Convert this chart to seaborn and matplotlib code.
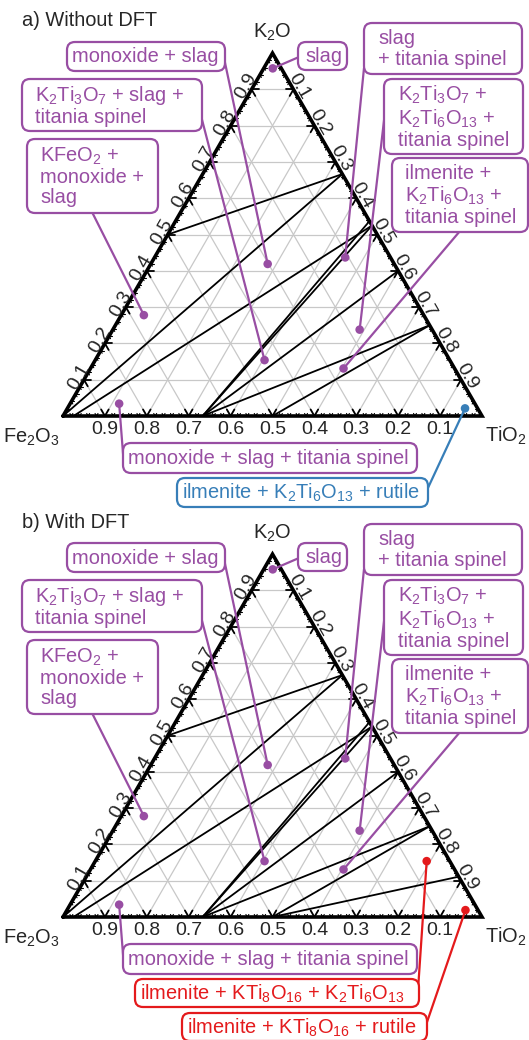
import numpy as np
import matplotlib
matplotlib.use("Agg")
import matplotlib.pyplot as plt
import seaborn as sns
import pandas as pd
from matplotlib.patches import FancyBboxPatch

sns.set_theme(style="white")
plt.rcParams['font.family'] = ['Liberation Sans', 'DejaVu Sans']
plt.rcParams['mathtext.fontset'] = 'custom'
plt.rcParams['mathtext.rm'] = 'Liberation Sans'
plt.rcParams['mathtext.it'] = 'Liberation Sans'

PURPLE = "#984ea3"
BLUE = "#377eb8"
RED = "#e41a1c"

# ---------------- data (cation fractions: K, Ti; Fe = 1 - K - Ti) -------------
# tie lines shared by both panels: start (K, Ti) -> end (K, Ti)
tie_k0 = [0.0, 0.5, 0.0, 0.0, 0.0, 0.0, 0.0, 0.0]
tie_t0 = [0.0, 0.0, 0.025, 1/3, 1/3, 1/3, 1/3, 0.5]
tie_k1 = [2/3, 2/3, 0.525, 0.525, 0.537, 0.4, 0.25, 0.25]
tie_t1 = [1/3, 1/3, 0.475, 0.475, 0.463, 0.6, 0.75, 0.75]
# extra tie line in panel b (with DFT: KTi8O16)
dft_k0 = [0.0]
dft_t0 = [0.5]
dft_k1 = [1/9]
dft_t1 = [8/9]

# labelled phase regions (text, dot K, dot Ti)
region_text = [
    "monoxide + slag",
    "K$_2$Ti$_3$O$_7$ + slag +\ntitania spinel",
    "KFeO$_2$ +\nmonoxide +\nslag",
    "slag",
    "slag\n+ titania spinel",
    "K$_2$Ti$_3$O$_7$ +\nK$_2$Ti$_6$O$_{13}$ +\ntitania spinel",
    "ilmenite +\nK$_2$Ti$_6$O$_{13}$ +\ntitania spinel",
    "monoxide + slag + titania spinel",
]
region_k = [0.419, 0.154, 0.278, 0.958, 0.437, 0.238, 0.131, 0.034]
region_t = [0.279, 0.404, 0.054, 0.0215, 0.455, 0.589, 0.604, 0.117]

a_extra_text = ["ilmenite + K$_2$Ti$_6$O$_{13}$ + rutile"]
a_extra_k = [0.021]
a_extra_t = [0.949]

b_extra_text = ["ilmenite + KTi$_8$O$_{16}$ + K$_2$Ti$_6$O$_{13}$",
                "ilmenite + KTi$_8$O$_{16}$ + rutile"]
b_extra_k = [0.154, 0.019]
b_extra_t = [0.791, 0.951]

corner_labels = ["Fe$_2$O$_3$", "TiO$_2$", "K$_2$O"]
tick_values = [0.1, 0.2, 0.3, 0.4, 0.5, 0.6, 0.7, 0.8, 0.9]
panel_titles = ["a) Without DFT", "b) With DFT"]

# ---------------- layout (pixels, panel-a frame) -------------
W, H = 529, 1040
X0, SIDE = 63.0, 419.0
BASES = [416.0, 917.0]
PANEL_TOP = [0, 500]
PANEL_BOT = [500, 1040]
R3 = np.sqrt(3) / 2

# boxes: (left, top, right, bottom), text left x, leader anchor
box_rect = [(67, 42, 225, 71), (22, 79, 202, 131), (27, 139, 158, 213), (298, 42, 347, 70),
            (364, 23, 522, 74), (384, 79, 523, 154), (392, 158, 528, 232), (123, 443, 417, 473)]
text_x = [72, 35, 40, 305, 378, 398, 405, 128]
lead_xy = [(224, 58), (200, 112), (92, 212), (299, 57), (364, 68), (385, 112), (460, 231), (124, 466)]
a_box_rect = [(177, 478, 428, 507)]
a_text_x = [182]
a_lead_xy = [(427, 490)]
b_box_rect = [(135, 478, 419, 506), (182, 512, 427, 540)]
b_text_x = [140, 187]
b_lead_xy = [(418, 489), (426, 524)]

FS = 14.4
FS_TICK = 14.0


def tern(k, t):
    k = np.asarray(k, float); t = np.asarray(t, float)
    return t + k / 2.0, k * R3


def P(x, y):
    return (x - X0) / SIDE, (416.0 - y) / SIDE


fig = plt.figure(figsize=(W / 100, H / 100), dpi=100)


def make_axes(i):
    top, bot = PANEL_TOP[i], PANEL_BOT[i]
    ax = fig.add_axes([0, 1 - bot / H, 1, (bot - top) / H])
    base = BASES[i]
    ax.set_xlim((0 - X0) / SIDE, (W - X0) / SIDE)
    ax.set_ylim((base - bot) / SIDE, (base - top) / SIDE)
    ax.axis("off")
    return ax


def draw_panel(i, ax, ties, labels):
    # grid
    for v in tick_values:
        for (ka, ta, kb, tb) in [(v, 0, v, 1 - v), (0, v, 1 - v, v), (0, 1 - v, 1 - v, 0)]:
            x, y = tern([ka, kb], [ta, tb])
            ax.plot(x, y, color="#c8c8c8", lw=0.9, zorder=1)
    # ticks
    for j in range(1, 50):
        v = j / 50
        major = (j % 5 == 0)
        ln = 0.018 if major else 0.007
        lw = 1.3 if major else 0.8
        for (k, t) in [(0, v), (v, 0), (v, 1 - v)]:
            x, y = tern(k, t)
            x = float(x); y = float(y)
            if k == 0:
                dirs = [(0.5, R3), (-0.5, R3)]
            elif t == 0:
                dirs = [(1, 0), (0.5, -R3)]
            else:
                dirs = [(-1, 0), (-0.5, -R3)]
            for dx, dy in dirs:
                ax.plot([x, x + dx * ln], [y, y + dy * ln], color="black", lw=lw, zorder=3)
    # tie lines
    rows = []
    for n, (k0, t0, k1, t1) in enumerate(ties):
        for kk, tt in [(k0, t0), (k1, t1)]:
            x, y = tern(kk, tt)
            rows.append({"line": n, "x": float(x), "y": float(y)})
    df = pd.DataFrame(rows)
    sns.lineplot(data=df, x="x", y="y", units="line", estimator=None, sort=False,
                 color="black", lw=1.3, ax=ax, zorder=4, legend=False)
    # triangle edge
    x, y = tern([0, 0, 1, 0], [0, 1, 0, 0])
    ax.plot(x, y, color="black", lw=2.6, zorder=5, solid_joinstyle="miter")

    # tick labels
    off = 6.0 / SIDE
    for v in tick_values:
        x, y = tern(v, 0)
        ax.text(float(x) - off * R3, float(y) + off * 0.5, f"{v:.1f}", rotation=60,
                ha="center", va="center", fontsize=FS_TICK, rotation_mode="anchor", zorder=6)
        x, y = tern(1 - v, v)
        ax.text(float(x) + off * R3 * 1.1, float(y) + off * 0.5, f"{v:.1f}", rotation=-60,
                ha="center", va="center", fontsize=FS_TICK, rotation_mode="anchor", zorder=6)
        x, y = tern(0, 1 - v)
        ax.text(float(x), float(y) - 13.5 / SIDE, f"{v:.1f}", ha="center", va="center",
                fontsize=FS_TICK, zorder=6)
    # corner labels and title
    ax.text(*P(31, 437), corner_labels[0], ha="center", va="center", fontsize=FS)
    ax.text(*P(506, 436), corner_labels[1], ha="center", va="center", fontsize=FS)
    ax.text(*P(272, 32), corner_labels[2], ha="center", va="center", fontsize=FS)
    ax.text(*P(22, 21), panel_titles[i], ha="left", va="center", fontsize=FS)

    # region labels
    for (txt, k, t, color, rect, tx, lxy) in labels:
        x, y = tern(k, t)
        sns.scatterplot(x=[float(x)], y=[float(y)], color=color, s=38, ax=ax,
                        zorder=8, edgecolor="none", legend=False)
        lx, ly = P(*lxy)
        ax.plot([lx, float(x)], [ly, float(y)], color=color, lw=1.6, zorder=7, clip_on=False)
        l, tp, r, b = rect
        bl, bb = P(l, b)
        br, bt = P(r, tp)
        patch = FancyBboxPatch((bl, bb), br - bl, bt - bb,
                               boxstyle=f"round,pad=0,rounding_size={8 / SIDE}",
                               fc="white", ec=color, lw=1.6, zorder=9, clip_on=False)
        ax.add_patch(patch)
        cx, cy = P(tx, (tp + b) / 2 + 0.5)
        ax.text(cx, cy, txt, ha="left", va="center", fontsize=FS, color=color, zorder=10,
                linespacing=1.08, clip_on=False)


ties_a = list(zip(tie_k0, tie_t0, tie_k1, tie_t1))
ties_b = ties_a + list(zip(dft_k0, dft_t0, dft_k1, dft_t1))

labels_common = [(region_text[n], region_k[n], region_t[n], PURPLE, box_rect[n], text_x[n], lead_xy[n])
                 for n in range(len(region_text))]
labels_a = labels_common + [(a_extra_text[0], a_extra_k[0], a_extra_t[0], BLUE,
                             a_box_rect[0], a_text_x[0], a_lead_xy[0])]
labels_b = labels_common + [(b_extra_text[n], b_extra_k[n], b_extra_t[n], RED,
                             b_box_rect[n], b_text_x[n], b_lead_xy[n]) for n in range(2)]

ax_b = make_axes(1)
draw_panel(1, ax_b, ties_b, labels_b)
ax_a = make_axes(0)
draw_panel(0, ax_a, ties_a, labels_a)

fig.savefig("out.png", dpi=100)
